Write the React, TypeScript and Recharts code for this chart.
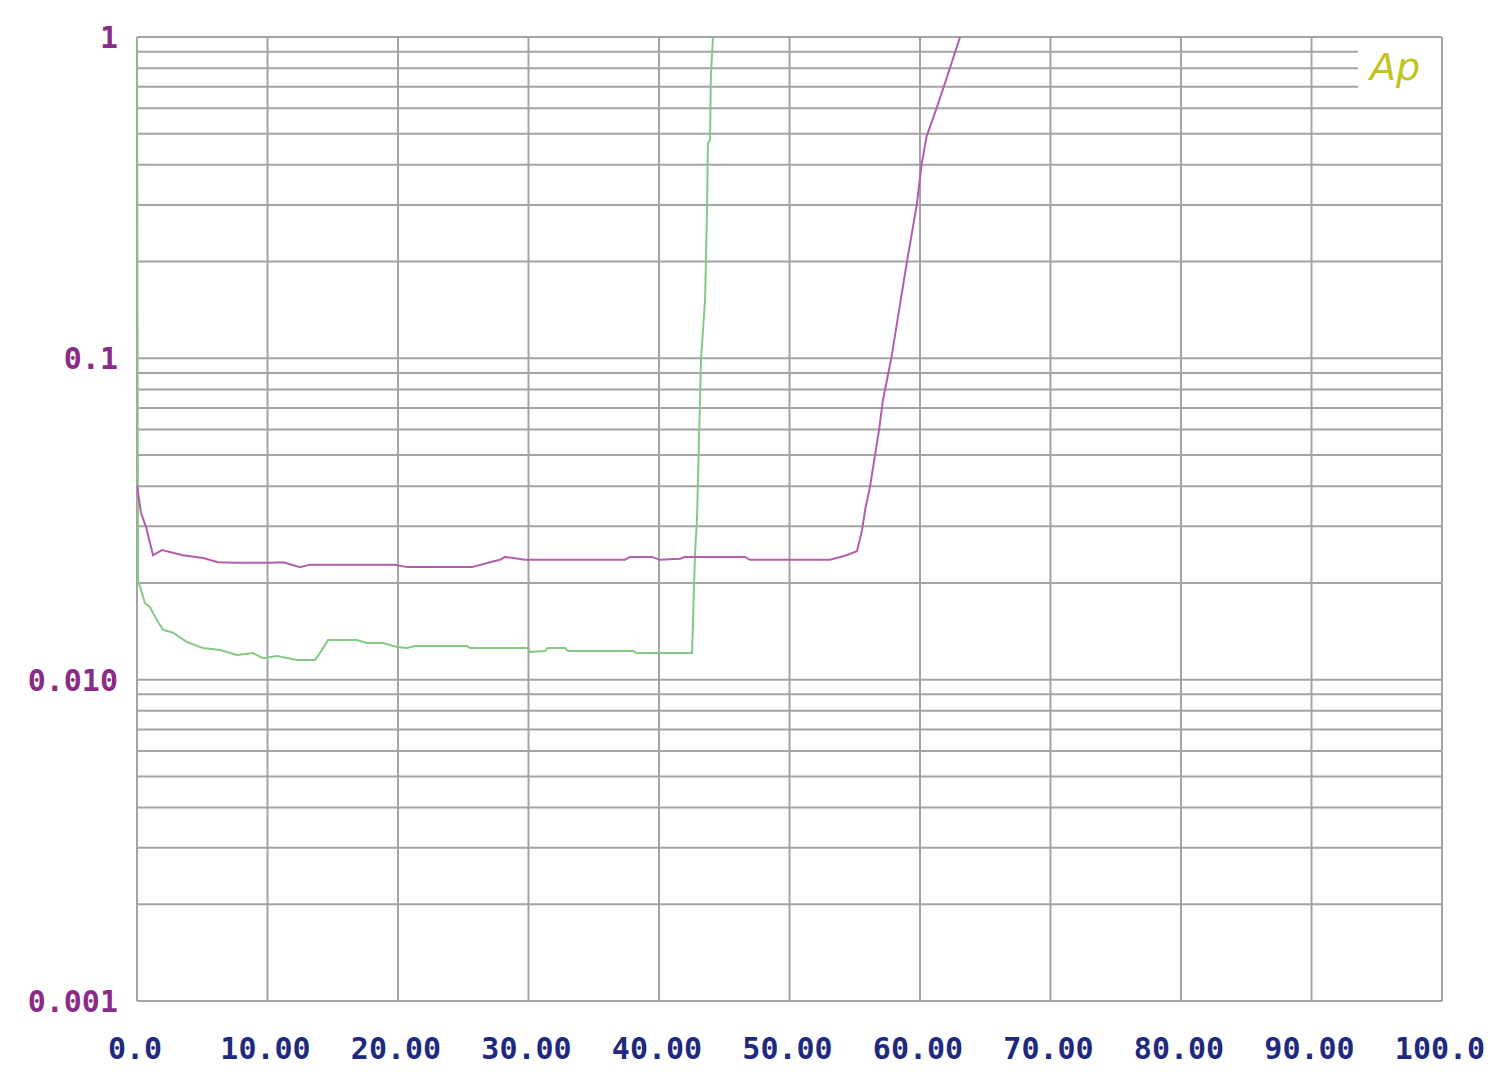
import React from 'react';
import { LineChart, Line, XAxis, YAxis, CartesianGrid } from 'recharts';

const xTicks = [0, 10, 20, 30, 40, 50, 60, 70, 80, 90, 100];
const xTickLabels = ['0.0', '10.00', '20.00', '30.00', '40.00', '50.00', '60.00', '70.00', '80.00', '90.00', '100.0'];

const yDecades = [0.001, 0.01, 0.1, 1];
const yDecadeLabels = ['0.001', '0.010', '0.1', '1'];
const yGridTicks = [
  0.001, 0.002, 0.003, 0.004, 0.005, 0.006, 0.007, 0.008, 0.009,
  0.01, 0.02, 0.03, 0.04, 0.05, 0.06, 0.07, 0.08, 0.09,
  0.1, 0.2, 0.3, 0.4, 0.5, 0.6, 0.7, 0.8, 0.9, 1,
];

const purpleX = [0, 0.31, 0.69, 1.23, 1.92, 3.52, 5.06, 6.21, 7.66, 10.19, 11.19, 12.49, 13.26, 19.77, 20.69, 25.67, 27.05, 27.82, 28.2, 29.73, 37.39, 37.78, 39.46, 40.08, 41.61, 41.99, 46.59, 46.97, 53.1, 54.25, 55.17, 55.56, 55.79, 56.17, 56.55, 56.86, 57.16, 57.8, 59.0, 59.75, 60.12, 60.5, 61.3, 62.07, 63.07];
const purpleY = [0.0403, 0.033, 0.0299, 0.0244, 0.0253, 0.0244, 0.0239, 0.0232, 0.0231, 0.0231, 0.0232, 0.0224, 0.0228, 0.0228, 0.0224, 0.0224, 0.0232, 0.0236, 0.0241, 0.0236, 0.0236, 0.0241, 0.0241, 0.0236, 0.0238, 0.0241, 0.0241, 0.0236, 0.0236, 0.0243, 0.0251, 0.0292, 0.0337, 0.0398, 0.05, 0.0598, 0.0742, 0.1, 0.2, 0.3, 0.4, 0.49, 0.605, 0.751, 1];

const greenX = [0, 0.08, 0.38, 0.61, 1.0, 1.53, 1.99, 2.76, 3.83, 5.06, 6.36, 7.66, 8.89, 9.66, 10.73, 12.26, 13.64, 14.02, 14.64, 16.86, 17.62, 18.85, 19.92, 20.69, 21.3, 25.29, 25.52, 29.96, 30.11, 31.26, 31.49, 32.8, 33.03, 38.01, 38.31, 42.53, 42.61, 42.76, 42.91, 43.22, 43.53, 43.68, 43.75, 43.91, 43.98, 44.14];
const greenY = [1, 0.0204, 0.0186, 0.0173, 0.0168, 0.0153, 0.0143, 0.014, 0.0131, 0.01254, 0.01236, 0.01193, 0.0121, 0.01167, 0.01184, 0.01151, 0.01151, 0.0121, 0.01328, 0.01328, 0.013, 0.013, 0.01263, 0.01254, 0.01272, 0.01272, 0.01254, 0.01254, 0.01219, 0.01227, 0.01254, 0.01254, 0.01227, 0.01227, 0.0121, 0.0121, 0.0153, 0.0248, 0.0314, 0.1, 0.152, 0.289, 0.468, 0.478, 0.773, 1];

const purpleData = purpleX.map((x, i) => ({ x, y: purpleY[i] }));
const greenData = greenX.map((x, i) => ({ x, y: greenY[i] }));

const FONT = '"DejaVu Sans Mono", monospace';
const GRID = '#a4a4a4';

const YTick = (props: any) => {
  const { y, payload } = props;
  const idx = yDecades.findIndex((d) => Math.abs(d - payload.value) < 1e-9);
  if (idx < 0) return <g />;
  return (
    <text x={118} y={y + 11} textAnchor="end" fontFamily={FONT} fontSize={30} fontWeight="bold" fill="#8a2b88">
      {yDecadeLabels[idx]}
    </text>
  );
};

const XTick = (props: any) => {
  const { x, payload } = props;
  const idx = xTicks.indexOf(payload.value);
  return (
    <text x={x - 2} y={1059} textAnchor="middle" fontFamily={FONT} fontSize={30} fontWeight="bold" fill="#1f2a7e">
      {idx >= 0 ? xTickLabels[idx] : ''}
    </text>
  );
};

export default function App() {
  return (
    <div style={{ position: 'absolute', left: 0, top: 0, width: 1500, height: 1072, background: '#ffffff' }}>
      <LineChart width={1500} height={1072} margin={{ top: 37, right: 58, bottom: 0, left: 0 }}>
        <CartesianGrid stroke={GRID} strokeWidth={2} />
        <XAxis
          type="number"
          dataKey="x"
          domain={[0, 100]}
          ticks={xTicks}
          interval={0}
          height={71}
          axisLine={false}
          tickLine={false}
          tick={<XTick />}
          allowDataOverflow
        />
        <YAxis
          type="number"
          dataKey="y"
          scale="log"
          domain={[0.001, 1]}
          ticks={yGridTicks}
          interval={0}
          width={137}
          axisLine={false}
          tickLine={false}
          tick={<YTick />}
          allowDataOverflow
        />
        <Line data={greenData} dataKey="y" type="linear" stroke="#86c986" strokeWidth={2} dot={false} isAnimationActive={false} />
        <Line data={purpleData} dataKey="y" type="linear" stroke="#b25db0" strokeWidth={2} dot={false} isAnimationActive={false} />
      </LineChart>
      <div
        style={{
          position: 'absolute',
          left: 1358,
          top: 44,
          width: 83,
          height: 56,
          background: '#ffffff',
          borderRight: `2px solid ${GRID}`,
        }}
      >
        <span
          style={{
            position: 'absolute',
            left: 12,
            top: 0,
            fontFamily: '"DejaVu Sans", sans-serif',
            fontStyle: 'italic',
            fontWeight: 300,
            fontSize: 38,
            lineHeight: '46px',
            color: '#c2c21c',
          }}
        >
          Ap
        </span>
      </div>
    </div>
  );
}
